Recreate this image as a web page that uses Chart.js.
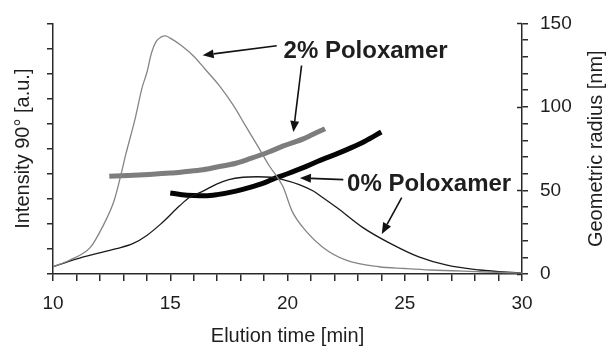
<!DOCTYPE html>
<html>
<head>
<meta charset="utf-8">
<script src="https://cdn.jsdelivr.net/npm/chart.js@4"></script>
<style>
  html, body { margin: 0; padding: 0; background: #fff; }
  #wrap { width: 608px; height: 348px; }
</style>
</head>
<body>
<div id="wrap"><canvas id="chart" width="608" height="348"></canvas></div>
<script>
// light-scattering intensity (left axis, arbitrary units)
const time2 = [10, 10.7, 11.6, 12.1, 12.6, 12.9, 13.1, 13.5, 13.8, 14.0, 14.2, 14.4, 14.6, 14.8, 15.0, 15.5, 16.0, 16.5, 17.1, 17.7, 18.2, 18.7, 19.2, 19.8, 20.2, 20.8, 21.5, 22.5, 23.9, 25.0, 26.1, 28.2, 30];
const intensity2 = [0.29, 0.55, 1.07, 1.86, 2.91, 3.97, 4.76, 6.19, 7.44, 8.03, 8.82, 9.28, 9.45, 9.5, 9.41, 9.1, 8.69, 8.16, 7.51, 6.72, 5.93, 5.15, 4.35, 3.5, 2.5, 1.7, 1.07, 0.55, 0.29, 0.22, 0.16, 0.09, 0.03];
const time0 = [10, 11.3, 12.7, 13.4, 14.0, 14.6, 15.4, 15.8, 16.4, 17.0, 17.5, 18.1, 18.7, 19.3, 19.8, 20.5, 21.1, 21.5, 22.1, 23.2, 24.4, 25.6, 26.8, 28.2, 30];
const intensity0 = [0.29, 0.68, 1.01, 1.21, 1.54, 2.0, 2.72, 3.04, 3.31, 3.6, 3.77, 3.86, 3.88, 3.86, 3.77, 3.57, 3.31, 3.05, 2.65, 1.86, 1.21, 0.68, 0.35, 0.16, 0.03];

// geometric radius in nm (right axis)
const radTime2 = [12.4, 13.2, 14.1, 15.0, 15.6, 16.4, 17.0, 17.8, 18.4, 19.2, 19.8, 20.7, 21.0, 21.6];
const radius2 = [58.5, 59, 59.6, 60.4, 61.2, 62.4, 64, 66.3, 69, 73, 76.5, 81, 83, 87];
const radTime0 = [15.0, 15.5, 16.0, 16.5, 17.0, 17.8, 18.4, 19.0, 19.5, 20.0, 20.7, 21.3, 22.2, 22.7, 23.3, 24.0];
const radius0 = [48.5, 47.5, 47, 46.8, 47.5, 49.6, 51.8, 54.5, 57.5, 60, 63.8, 67.5, 72.5, 75.5, 79.5, 85];

const xTicks = [10, 15, 20, 25, 30];
const radiusTicks = [0, 50, 100, 150];

// callouts, in (time, radius) units
const callouts = [
  { text: '2% Poloxamer', x: 23.33, y: 129.4 },
  { text: '0% Poloxamer', x: 26.04, y: 49.6 }
];
const arrows = [
  [19.54, 136.6, 16.38, 130.9],
  [20.6, 124.8, 20.25, 85],
  [22.38, 56.5, 20.53, 57.5],
  [24.87, 45.7, 24.02, 24]
];

const FONT = "'Liberation Sans', Arial, Helvetica, sans-serif";
const AXIS = '#2a2a2a';
Chart.defaults.font.family = FONT;
Chart.defaults.color = '#1e1e1e';

const pairs = (xs, ys) => xs.map((x, i) => ({ x: x, y: ys[i] }));

const extras = {
  id: 'extras',
  afterDraw(chart) {
    const ctx = chart.ctx;
    const xs = chart.scales.x, yr = chart.scales.yR;
    ctx.save();

    // major ticks on the radius axis cross into the plot
    ctx.strokeStyle = AXIS;
    ctx.lineWidth = 1.5;
    radiusTicks.forEach(v => {
      const py = Math.round(yr.getPixelForValue(v)) + 0.5;
      ctx.beginPath();
      ctx.moveTo(yr.left - 5, py);
      ctx.lineTo(yr.left, py);
      ctx.stroke();
    });

    // right axis title, reading upwards
    ctx.fillStyle = '#1e1e1e';
    ctx.font = '20px ' + FONT;
    ctx.textAlign = 'center';
    ctx.textBaseline = 'middle';
    ctx.translate(yr.right - 12, (yr.top + yr.bottom) / 2);
    ctx.rotate(-Math.PI / 2);
    ctx.fillText('Geometric radius [nm]', 0, 0);
    ctx.setTransform(1, 0, 0, 1, 0, 0);

    // callout texts
    ctx.font = 'bold 24px ' + FONT;
    ctx.textBaseline = 'alphabetic';
    callouts.forEach(c => {
      ctx.fillText(c.text, xs.getPixelForValue(c.x), yr.getPixelForValue(c.y));
    });

    // arrows
    ctx.strokeStyle = '#111';
    ctx.fillStyle = '#111';
    ctx.lineWidth = 1.6;
    arrows.forEach(a => {
      const x1 = xs.getPixelForValue(a[0]), y1 = yr.getPixelForValue(a[1]);
      const x2 = xs.getPixelForValue(a[2]), y2 = yr.getPixelForValue(a[3]);
      const ang = Math.atan2(y2 - y1, x2 - x1);
      const hl = 11, hw = 4.5;
      const bx = x2 - hl * Math.cos(ang), by = y2 - hl * Math.sin(ang);
      ctx.beginPath();
      ctx.moveTo(x1, y1);
      ctx.lineTo(bx, by);
      ctx.stroke();
      ctx.beginPath();
      ctx.moveTo(x2, y2);
      ctx.lineTo(bx + hw * Math.sin(ang), by - hw * Math.cos(ang));
      ctx.lineTo(bx - hw * Math.sin(ang), by + hw * Math.cos(ang));
      ctx.closePath();
      ctx.fill();
    });
    ctx.restore();
  }
};

new Chart(document.getElementById('chart'), {
  type: 'line',
  data: {
    datasets: [
      {
        label: '2% Poloxamer intensity',
        data: pairs(time2, intensity2),
        yAxisID: 'yI',
        borderColor: '#858585',
        borderWidth: 1.3
      },
      {
        label: '0% Poloxamer intensity',
        data: pairs(time0, intensity0),
        yAxisID: 'yI',
        borderColor: '#1a1a1a',
        borderWidth: 1.3
      },
      {
        label: '2% Poloxamer radius',
        data: pairs(radTime2, radius2),
        yAxisID: 'yR',
        borderColor: '#7d7d7d',
        borderWidth: 5
      },
      {
        label: '0% Poloxamer radius',
        data: pairs(radTime0, radius0),
        yAxisID: 'yR',
        borderColor: '#050505',
        borderWidth: 5
      }
    ]
  },
  options: {
    responsive: false,
    animation: false,
    events: [],
    layout: { padding: { top: 20, left: 0, right: 0, bottom: 0 } },
    elements: {
      point: { radius: 0 },
      line: { cubicInterpolationMode: 'monotone', borderCapStyle: 'butt' }
    },
    plugins: { legend: { display: false }, tooltip: { enabled: false } },
    scales: {
      x: {
        type: 'linear',
        min: 10,
        max: 30,
        afterFit: s => { s.height = 74; },
        border: { display: true, color: AXIS, width: 1.5 },
        grid: { drawOnChartArea: false, drawTicks: true, tickLength: 7, color: AXIS, lineWidth: 1.5 },
        ticks: {
          stepSize: 1,
          autoSkip: false,
          maxRotation: 0,
          padding: 11,
          font: { size: 19 },
          callback: v => xTicks.includes(v) ? String(v) : ''
        },
        title: {
          display: true,
          text: 'Elution time [min]',
          font: { size: 20 },
          padding: { top: 0, bottom: 0 }
        }
      },
      yI: {
        type: 'linear',
        position: 'left',
        min: 0,
        max: 10,
        afterFit: s => { s.width = 53; },
        border: { display: true, color: AXIS, width: 1.5 },
        grid: { drawOnChartArea: false, drawTicks: true, tickLength: 6, color: AXIS, lineWidth: 1.5 },
        ticks: { stepSize: 1, display: false },
        title: {
          display: true,
          text: 'Intensity 90° [a.u.]',
          font: { size: 20 },
          padding: { top: 11, bottom: 0 }
        }
      },
      yR: {
        type: 'linear',
        position: 'right',
        min: 0,
        max: 150,
        afterFit: s => { s.width = 86; },
        border: { display: true, color: AXIS, width: 1.5 },
        grid: { drawOnChartArea: false, drawTicks: true, tickLength: 6, color: AXIS, lineWidth: 1.5 },
        ticks: {
          stepSize: 10,
          autoSkip: false,
          padding: 12,
          font: { size: 19 },
          callback: v => radiusTicks.includes(v) ? String(v) : ''
        }
      }
    }
  },
  plugins: [extras]
});
</script>
</body>
</html>
